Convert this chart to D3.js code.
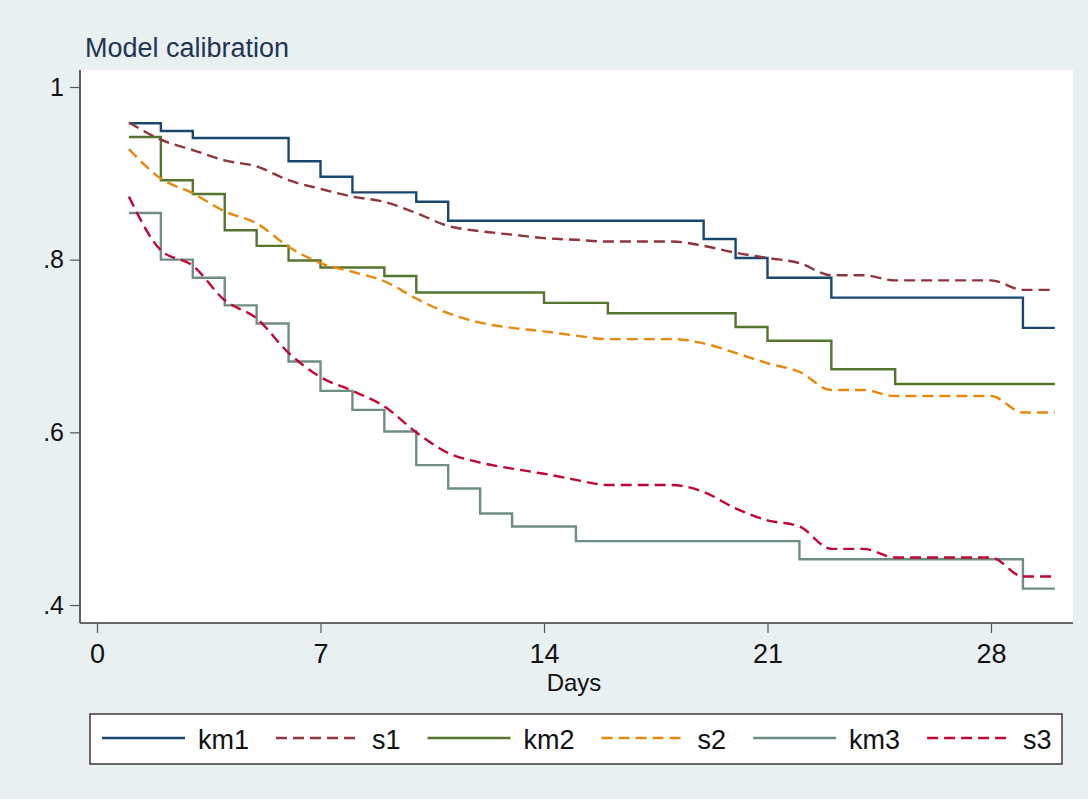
<!DOCTYPE html>
<html>
<head>
<meta charset="utf-8">
<script src="https://d3js.org/d3.v7.min.js"></script>
<style>
  body { margin: 0; background: #e9f0f2; }
  svg text { font-family: "Liberation Sans", Arial, Helvetica, sans-serif; }
</style>
</head>
<body>
<div id="chart"></div>
<script>
// Kaplan-Meier step curves (day where the step starts, survival after it)
var km1Days = [1, 2, 3, 6, 7, 8, 10, 11, 19, 20, 21, 23, 29, 30];
var km1Surv = [.958, .949, .941, .914, .896, .878, .867, .845, .824, .802, .779, .756, .721, .721];

var km2Days = [1, 2, 3, 4, 5, 6, 7, 9, 10, 14, 16, 20, 21, 23, 25, 30];
var km2Surv = [.942, .892, .876, .834, .816, .799, .791, .781, .762, .750, .738, .722, .706, .673, .656, .656];

var km3Days = [1, 2, 3, 4, 5, 6, 7, 8, 9, 10, 11, 12, 13, 15, 22, 29, 30];
var km3Surv = [.854, .800, .779, .747, .726, .682, .648, .626, .601, .562, .535, .506, .491, .474, .453, .419, .419];

// model predicted survival, one value per day 1..30
var sDays = d3.range(1, 31);
var s1 = [.959, .939, .927, .915, .908, .892, .882, .873, .867, .854, .839, .833, .829, .825, .823,
          .821, .821, .821, .816, .808, .802, .796, .782, .782, .776, .776, .776, .776, .765, .765];
var s2 = [.928, .894, .877, .856, .842, .815, .796, .786, .775, .755, .738, .727, .721, .717, .712,
          .708, .708, .708, .703, .692, .680, .670, .649, .649, .642, .642, .642, .642, .623, .623];
var s3 = [.873, .811, .793, .753, .732, .692, .664, .648, .630, .600, .576, .565, .558, .552, .545,
          .539, .539, .539, .531, .512, .498, .491, .465, .465, .455, .455, .455, .455, .433, .433];

var xTicks = [0, 7, 14, 21, 28];
var yTicks = [.4, .6, .8, 1];

var W = 1088, H = 799;
var plot = {left: 80, right: 1073, top: 70, bottom: 623};

var svg = d3.select("#chart").append("svg")
    .attr("width", W)
    .attr("height", H);

svg.append("rect")
    .attr("width", W).attr("height", H)
    .attr("fill", "#e9f0f2");

// white plot region
svg.append("rect")
    .attr("x", plot.left).attr("y", plot.top)
    .attr("width", plot.right - plot.left)
    .attr("height", plot.bottom - plot.top)
    .attr("fill", "#ffffff");

var x = d3.scaleLinear().domain([0, 28]).range([97, 991]);
var y = d3.scaleLinear().domain([.4, 1]).range([605, 87]);

// title
svg.append("text")
    .attr("x", 85).attr("y", 57)
    .attr("font-size", 27)
    .attr("fill", "#1f3552")
    .text("Model calibration");

// x axis
var xAxis = svg.append("g")
    .attr("transform", "translate(0," + plot.bottom + ")")
    .call(d3.axisBottom(x).tickValues(xTicks).tickSize(10).tickPadding(11));
xAxis.select(".domain").attr("d", "M" + plot.left + ",0H" + plot.right)
    .attr("stroke", "#3a3a3a").attr("stroke-width", 1.6);
xAxis.selectAll(".tick line").attr("stroke", "#555").attr("stroke-width", 1.2);
xAxis.selectAll(".tick text")
    .attr("font-size", 27)
    .attr("fill", "#111")
    .attr("font-family", "Liberation Sans, Arial, sans-serif");

svg.append("text")
    .attr("x", 574).attr("y", 691)
    .attr("text-anchor", "middle")
    .attr("font-size", 24)
    .attr("fill", "#111")
    .text("Days");

// y axis
var yAxis = svg.append("g")
    .attr("transform", "translate(" + plot.left + ",0)")
    .call(d3.axisLeft(y).tickValues(yTicks).tickSize(10).tickPadding(6)
        .tickFormat(function(d) { return d === 1 ? "1" : d3.format(".1f")(d).replace(/^0/, ""); }));
yAxis.select(".domain").attr("d", "M0," + plot.top + "V" + plot.bottom)
    .attr("stroke", "#3a3a3a").attr("stroke-width", 1.6);
yAxis.selectAll(".tick line").attr("stroke", "#555").attr("stroke-width", 1.2);
yAxis.selectAll(".tick text")
    .attr("font-size", 25)
    .attr("fill", "#111")
    .attr("font-family", "Liberation Sans, Arial, sans-serif");

// series
var series = [
    {name: "km1", days: km1Days, vals: km1Surv, color: "#1a476f", dash: null, step: true},
    {name: "s1",  days: sDays,   vals: s1,      color: "#90353b", dash: "11,6", step: false},
    {name: "km2", days: km2Days, vals: km2Surv, color: "#55752f", dash: null, step: true},
    {name: "s2",  days: sDays,   vals: s2,      color: "#e8880c", dash: "11,6", step: false},
    {name: "km3", days: km3Days, vals: km3Surv, color: "#6e8e84", dash: null, step: true},
    {name: "s3",  days: sDays,   vals: s3,      color: "#c10534", dash: "11,6", step: false}
];

var drawOrder = ["km3", "s3", "km2", "s2", "km1", "s1"];

drawOrder.forEach(function(nm) {
    var s = series.find(function(d) { return d.name === nm; });
    var pts = s.days.map(function(d, i) { return [d, s.vals[i]]; });
    var line = d3.line()
        .x(function(d) { return x(d[0]); })
        .y(function(d) { return y(d[1]); })
        .curve(s.step ? d3.curveStepAfter : d3.curveMonotoneX);
    svg.append("path")
        .datum(pts)
        .attr("d", line)
        .attr("fill", "none")
        .attr("stroke", s.color)
        .attr("stroke-width", 2.4)
        .attr("stroke-dasharray", s.dash);
});

// legend
var legend = svg.append("g");
legend.append("rect")
    .attr("x", 90).attr("y", 714)
    .attr("width", 972).attr("height", 50)
    .attr("fill", "#ffffff")
    .attr("stroke", "#3a3a3a")
    .attr("stroke-width", 1.5);

var lx = 102;
series.forEach(function(s) {
    legend.append("line")
        .attr("x1", lx).attr("x2", lx + 83)
        .attr("y1", 738).attr("y2", 738)
        .attr("stroke", s.color)
        .attr("stroke-width", 2.4)
        .attr("stroke-dasharray", s.dash);
    var t = legend.append("text")
        .attr("x", lx + 96).attr("y", 749)
        .attr("font-size", 27)
        .attr("fill", "#111")
        .text(s.name);
    lx += 96 + t.node().getComputedTextLength() + 27;
});
</script>
</body>
</html>
